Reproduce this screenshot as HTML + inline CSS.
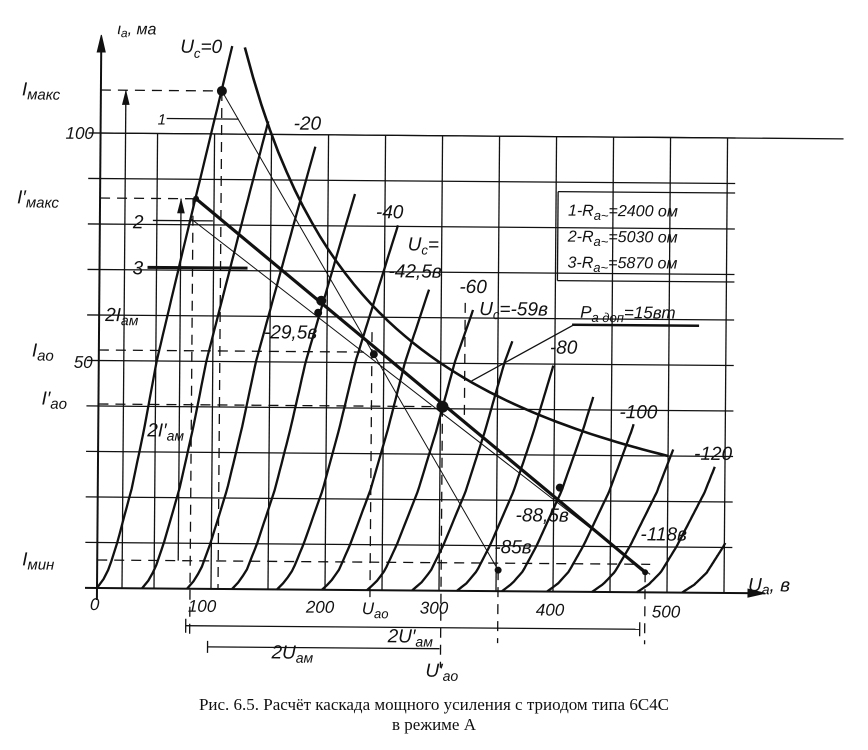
<!DOCTYPE html>
<html><head><meta charset="utf-8"><style>
html,body{margin:0;padding:0;background:#fff;}
svg{display:block;}
text{font-family:"Liberation Sans","DejaVu Sans",sans-serif;font-style:italic;fill:#111;}
.cap{font-family:"Liberation Serif","DejaVu Serif",serif;font-style:normal;font-size:17px;}
</style></head><body>
<svg id="s" width="868" height="750" viewBox="0 0 868 750" xmlns="http://www.w3.org/2000/svg">
<g id="chart" transform="rotate(0.45 97 588)" stroke="#111" fill="none">
<g id="grid" stroke-width="1.3"></g>
<line x1="97" y1="600" x2="97" y2="40" stroke-width="2"/>
<polygon points="97,35 93,52 101,52" fill="#111"/>
<line x1="85" y1="588" x2="760" y2="588" stroke-width="2"/>
<polygon points="765,588 748,584 748,592" fill="#111"/>
<line x1="97" y1="133" x2="840" y2="133" stroke-width="1.3"/>
<g stroke-width="1.3">
<line x1="555" y1="188" x2="732" y2="188"/>
<line x1="555" y1="188" x2="555" y2="277"/>
<line x1="555" y1="277" x2="732" y2="277"/>
</g>
<g id="curves" stroke-width="2.3"></g>
<path id="hyp" stroke-width="2.6"/>
<line x1="218" y1="90" x2="498" y2="567" stroke-width="1"/>
<line x1="193" y1="198" x2="645" y2="568" stroke-width="3.2"/>
<line x1="188" y1="218" x2="650" y2="570" stroke-width="1"/>
<g stroke-dasharray="10,7" stroke-width="1.3">
<line x1="97" y1="90" x2="218" y2="90"/>
<line x1="218" y1="90" x2="218" y2="588"/>
<line x1="97" y1="198" x2="193" y2="198"/>
<line x1="190" y1="198" x2="190" y2="640"/>
<line x1="97" y1="350" x2="372" y2="350"/>
<line x1="370" y1="330" x2="370" y2="600"/>
<line x1="97" y1="404" x2="441" y2="404"/>
<line x1="441" y1="404" x2="441" y2="665"/>
<line x1="97" y1="560" x2="650" y2="560"/>
<line x1="498" y1="567" x2="498" y2="640"/>
<line x1="463" y1="300" x2="463" y2="420"/>
<line x1="645" y1="568" x2="645" y2="640"/>
</g>
<g stroke-width="1.3">
<line x1="122" y1="588" x2="122" y2="90"/><polygon points="122,92 119,104 125,104" fill="#111"/>
<line x1="178" y1="560" x2="178" y2="198"/><polygon points="178,200 175,212 181,212" fill="#111"/>
<line x1="163" y1="118" x2="235" y2="118"/>
<line x1="150" y1="220" x2="210" y2="220"/>
<line x1="145" y1="267" x2="245" y2="267" stroke-width="3"/>
<line x1="186" y1="625" x2="640" y2="625"/><line x1="186" y1="618" x2="186" y2="632"/><line x1="640" y1="618" x2="640" y2="632"/>
<line x1="208" y1="646" x2="440" y2="646"/><line x1="208" y1="640" x2="208" y2="652"/>
<line x1="570" y1="321" x2="697" y2="321" stroke-width="2.5"/>
<line x1="470" y1="378" x2="572" y2="321"/>
</g>
<g fill="#111" stroke="none">
<circle cx="218" cy="90" r="5"/><circle cx="319" cy="299" r="5"/><circle cx="316" cy="311" r="4"/>
<circle cx="372" cy="352" r="4"/><circle cx="441" cy="404" r="6"/><circle cx="559" cy="484" r="4"/>
<circle cx="498" cy="567" r="3.5"/><circle cx="645" cy="568" r="3"/><circle cx="193" cy="198" r="3"/>
</g>
<g stroke="none" font-size="19">
<text x="113" y="34" font-size="16">ι<tspan font-size="12" dy="3">a</tspan><tspan dy="-3">, ма</tspan></text>
<text x="176" y="52">U<tspan font-size="13" dy="5">c</tspan><tspan dy="-5">=0</tspan></text>
<text x="18" y="96">I<tspan font-size="15" dy="4">макс</tspan></text>
<text x="62" y="139" font-size="17">100</text>
<text x="14" y="204">I′<tspan font-size="15" dy="4">макс</tspan></text>
<text x="130" y="228">2</text>
<text x="130" y="274">3</text>
<text x="154" y="124" font-size="15">1</text>
<text x="103" y="321">2I<tspan font-size="14" dy="4">ам</tspan></text>
<text x="30" y="357">I<tspan font-size="15" dy="4">ао</tspan></text>
<text x="72" y="368" font-size="17">50</text>
<text x="40" y="405">I′<tspan font-size="15" dy="4">ао</tspan></text>
<text x="146" y="436">2I′<tspan font-size="14" dy="4">ам</tspan></text>
<text x="22" y="566">I<tspan font-size="15" dy="4">мин</tspan></text>
<text x="90" y="610" font-size="17">0</text>
<text x="188" y="611" font-size="17">100</text>
<text x="306" y="611" font-size="17">200</text>
<text x="362" y="612" font-size="17">U<tspan font-size="13" dy="4">ао</tspan></text>
<text x="420" y="611" font-size="17">300</text>
<text x="536" y="612" font-size="17">400</text>
<text x="652" y="613" font-size="17">500</text>
<text x="748" y="586">U<tspan font-size="14" dy="3">a</tspan><tspan dy="-3">, в</tspan></text>
<text x="388" y="640">2U′<tspan font-size="14" dy="4">ам</tspan></text>
<text x="272" y="657">2U<tspan font-size="14" dy="4">ам</tspan></text>
<text x="426" y="674">U′<tspan font-size="14" dy="4">ао</tspan></text>
<text x="290" y="128">-20</text>
<text x="373" y="216">-40</text>
<text x="457" y="290">-60</text>
<text x="548" y="350">-80</text>
<text x="618" y="414">-100</text>
<text x="693" y="455">-120</text>
<text x="405" y="248">U<tspan font-size="13" dy="4">c</tspan><tspan dy="-4">=</tspan></text>
<text x="386" y="275">-42,5в</text>
<text x="477" y="312">U<tspan font-size="13" dy="4">c</tspan><tspan dy="-4">=-59в</tspan></text>
<text x="578" y="314" font-size="17">P<tspan font-size="13" dy="4">a доп</tspan><tspan dy="-4">=15вт</tspan></text>
<text x="262" y="337">-29,5в</text>
<text x="515" y="518">-88,5в</text>
<text x="640" y="536">-118в</text>
<text x="494" y="550">-85в</text>
<text x="565" y="212" font-size="16">1-R<tspan font-size="13" dy="4">a~</tspan><tspan dy="-4">=2400 ом</tspan></text>
<text x="565" y="238" font-size="16">2-R<tspan font-size="13" dy="4">a~</tspan><tspan dy="-4">=5030 ом</tspan></text>
<text x="565" y="264" font-size="16">3-R<tspan font-size="13" dy="4">a~</tspan><tspan dy="-4">=5870 ом</tspan></text>
</g>
</g>
<text class="cap" x="434" y="710" text-anchor="middle">Рис. 6.5. Расчёт каскада мощного усиления с триодом типа 6С4С</text>
<text class="cap" x="434" y="730" text-anchor="middle">в режиме А</text>
</svg>
<script>
var ns="http://www.w3.org/2000/svg";
function el(p,t,a){var e=document.createElementNS(ns,t);for(var k in a)e.setAttribute(k,a[k]);p.appendChild(e);return e;}
var g=document.getElementById("grid");
for(var x=97+57;x<=733;x+=57){el(g,"line",{x1:x,y1:133,x2:x,y2:588});}
for(var y=588-45.5;y>=133;y-=45.5){el(g,"line",{x1:85,y1:y,x2:732,y2:y});}
var P=[[0,0],[8,6],[20,12],[46,20],[100,34],[160,46],[228,58],[350,86],[500,121],[560,135]];
function f(h){for(var i=1;i<P.length;i++){if(h<=P[i][0]){var a=P[i-1],b=P[i];return a[1]+(b[1]-a[1])*(h-a[0])/(b[0]-a[0]);}}return 135;}
var c=document.getElementById("curves");
var tops=[45,120,145,192,223,287,307,338,362,393,420,445,462,538];
for(var n=0;n<14;n++){
 var d="",off=97+45*n,ht=588-tops[n],s=1+0.08*n;
 for(var i=0;i<=60;i++){var h=ht*i/60;var xx=off+s*f(h);d+=(i?"L":"M")+xx.toFixed(1)+","+(588-h).toFixed(1);}
 el(c,"path",{d:d});
}
var hd="";
for(var i=0;i<=50;i++){var ua=126+(500-126)*i/50;var ia=15000/ua;hd+=(i?"L":"M")+(97+1.14*ua).toFixed(1)+","+(588-4.55*ia).toFixed(1);}
document.getElementById("hyp").setAttribute("d",hd);
</script>
</body></html>
